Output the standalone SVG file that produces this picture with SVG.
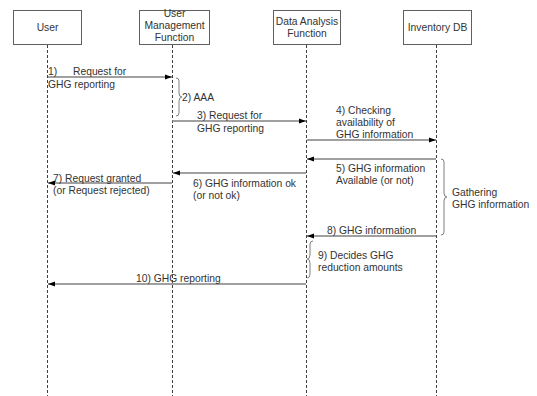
<svg xmlns="http://www.w3.org/2000/svg" width="537" height="396" viewBox="0 0 537 396">
<style>
.box{fill:#fff;stroke:#606060;stroke-width:1}
.life{stroke:#404040;stroke-width:1;stroke-dasharray:3,2;fill:none}
.msg{stroke:#808080;stroke-width:1.3;fill:none;marker-end:url(#ah)}
.brace{stroke:#808080;stroke-width:1;fill:none}
text{font-family:"Liberation Sans",Arial,sans-serif;font-size:10.3px;fill:#333}
.c{text-anchor:middle}
</style>
<defs>
<marker id="ah" markerWidth="8" markerHeight="6" refX="7" refY="3" orient="auto" markerUnits="userSpaceOnUse">
<path d="M0,0.5 L7,3 L0,5.5 Z" fill="#000"/>
</marker>
</defs>
<rect width="537" height="396" fill="#fff"/>
<g id="user">
<rect class="box" x="13.5" y="10.5" width="68" height="34"/>
<text class="c" x="47.5" y="31">User</text>
<line class="life" x1="47.5" y1="45" x2="47.5" y2="396"/>
</g>
<g id="umf">
<rect class="box" x="139.5" y="10.5" width="70" height="34"/>
<text class="c" x="174.5" y="17">User</text>
<text class="c" x="174.5" y="29">Management</text>
<text class="c" x="174.5" y="41">Function</text>
<line class="life" x1="172.5" y1="45" x2="172.5" y2="396"/>
</g>
<g id="daf">
<rect class="box" x="273.5" y="10.5" width="67" height="34"/>
<text class="c" x="307" y="25">Data Analysis</text>
<text class="c" x="307" y="37">Function</text>
<line class="life" x1="306.5" y1="45" x2="306.5" y2="396"/>
</g>
<g id="idb">
<rect class="box" x="403.5" y="10.5" width="68" height="34"/>
<text class="c" x="437.5" y="31">Inventory DB</text>
<line class="life" x1="436.5" y1="45" x2="436.5" y2="396"/>
</g>
<g id="connectors">
<line class="msg" x1="48" y1="77" x2="172" y2="77"/>
<line class="msg" x1="172" y1="121" x2="306" y2="121"/>
<line class="msg" x1="307" y1="140" x2="436" y2="140"/>
<line class="msg" x1="436" y1="159" x2="307" y2="159"/>
<line class="msg" x1="306" y1="173" x2="173" y2="173"/>
<line class="msg" x1="172" y1="183" x2="48" y2="183"/>
<line class="msg" x1="436" y1="236" x2="307" y2="236"/>
<line class="msg" x1="306" y1="284" x2="48" y2="284"/>
<path class="brace" d="M176,78 Q179,78 179,81 L179,93 Q179,97 182,97 Q179,97 179,101 L179,113 Q179,116 176,116"/>
<path class="brace" d="M441,159 Q444,159 444,162 L444,193 Q444,197 447,197 Q444,197 444,201 L444,232 Q444,235 441,235"/>
<path class="brace" d="M313,241 Q310,241 310,244 L310,255 Q310,259 307,259 Q310,259 310,263 L310,274 Q310,278 307,278"/>
</g>
<g id="labels">
<text x="48" y="75">1)</text>
<text x="73" y="75">Request for</text>
<text x="48" y="88">GHG reporting</text>
<text x="182" y="101">2) AAA</text>
<text x="197" y="119">3) Request for</text>
<text x="197" y="132">GHG reporting</text>
<text x="336" y="114">4) Checking</text>
<text x="336" y="126">availability of</text>
<text x="336" y="138">GHG information</text>
<text x="336" y="172">5) GHG information</text>
<text x="336" y="184">Available (or not)</text>
<text x="193" y="187">6) GHG information ok</text>
<text x="193" y="199">(or not ok)</text>
<text x="53" y="182">7) Request granted</text>
<text x="53" y="194">(or Request rejected)</text>
<text x="452" y="196">Gathering</text>
<text x="452" y="208">GHG information</text>
<text x="327" y="234">8) GHG information</text>
<text x="318" y="259">9) Decides GHG</text>
<text x="318" y="271">reduction amounts</text>
<text x="136" y="282">10) GHG reporting</text>
</g>
</svg>
